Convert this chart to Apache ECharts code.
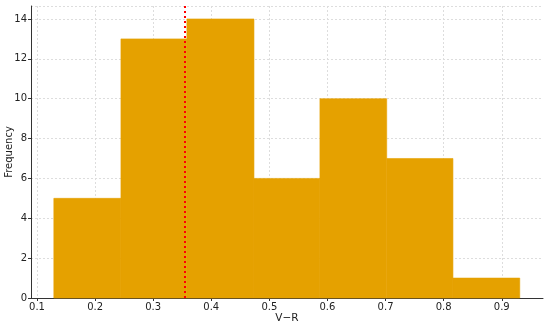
<!DOCTYPE html>
<html>
<head>
<meta charset="utf-8">
<script src="https://cdn.jsdelivr.net/npm/echarts@6/dist/echarts.min.js"></script>
<style>
  html, body { margin: 0; padding: 0; background: #fff; }
  #chart { width: 550px; height: 325px; }
</style>
</head>
<body>
<div id="chart"></div>
<script>
// histogram bin edges and counts
var binEdges = [0.129, 0.2445, 0.358, 0.4735, 0.587, 0.702, 0.816, 0.931];
var counts = [5, 13, 14, 6, 10, 7, 1];
var markValue = 0.354;
var xTicks = [0.1, 0.2, 0.3, 0.4, 0.5, 0.6, 0.7, 0.8, 0.9];

var bars = [];
for (var i = 0; i < counts.length; i++) {
  bars.push([binEdges[i], binEdges[i + 1], counts[i]]);
}

var chart = echarts.init(document.getElementById('chart'));
var font = 'DejaVu Sans';

var option = {
  animation: false,
  grid: { left: 31, right: 7, top: 6, bottom: 27, containLabel: false, outerBoundsMode: 'none' },
  xAxis: {
    type: 'value',
    min: 0.0897,
    max: 0.971,
    interval: 0.1,
    name: 'V\u2212R',
    nameLocation: 'middle',
    nameGap: 15,
    nameMoveOverlap: false,
    nameTextStyle: { color: '#222', fontSize: 10.5, fontFamily: font },
    axisLine: { show: true, lineStyle: { color: '#333', width: 1 } },
    axisTick: { show: true, length: 3, lineStyle: { color: '#333' }, customValues: xTicks },
    axisLabel: {
      color: '#222', fontSize: 10, fontFamily: font, margin: 4,
      customValues: xTicks,
      formatter: function (v) { return v.toFixed(1); }
    },
    splitLine: { show: true, lineStyle: { color: '#ddd', type: [2, 2], width: 1 } }
  },
  yAxis: {
    type: 'value',
    min: 0,
    max: 14.65,
    interval: 2,
    name: 'Frequency',
    nameLocation: 'middle',
    nameGap: 17,
    nameMoveOverlap: false,
    nameTextStyle: { color: '#222', fontSize: 10, fontFamily: font },
    axisLine: { show: true, lineStyle: { color: '#333', width: 1 } },
    axisTick: { show: true, length: 3, lineStyle: { color: '#333' } },
    axisLabel: {
      color: '#222', fontSize: 10, fontFamily: font, margin: 4,
      showMaxLabel: false
    },
    splitLine: { show: true, lineStyle: { color: '#ddd', type: [2, 2], width: 1 } }
  },
  series: [{
    type: 'custom',
    data: bars,
    renderItem: function (params, api) {
      var p0 = api.coord([api.value(0), api.value(2)]);
      var p1 = api.coord([api.value(1), 0]);
      return {
        type: 'rect',
        shape: { x: p0[0], y: p0[1], width: p1[0] - p0[0], height: p1[1] - p0[1] },
        style: { fill: '#e5a100', stroke: '#e5a100', lineWidth: 0.6 }
      };
    },
    encode: { x: [0, 1], y: 2 },
    markLine: {
      silent: true,
      symbol: 'none',
      label: { show: false },
      lineStyle: { color: '#ff0000', type: [2, 3], width: 2 },
      data: [[{ coord: [markValue, 0] }, { coord: [markValue, 14.65] }]]
    }
  }]
};

chart.setOption(option);
</script>
</body>
</html>
